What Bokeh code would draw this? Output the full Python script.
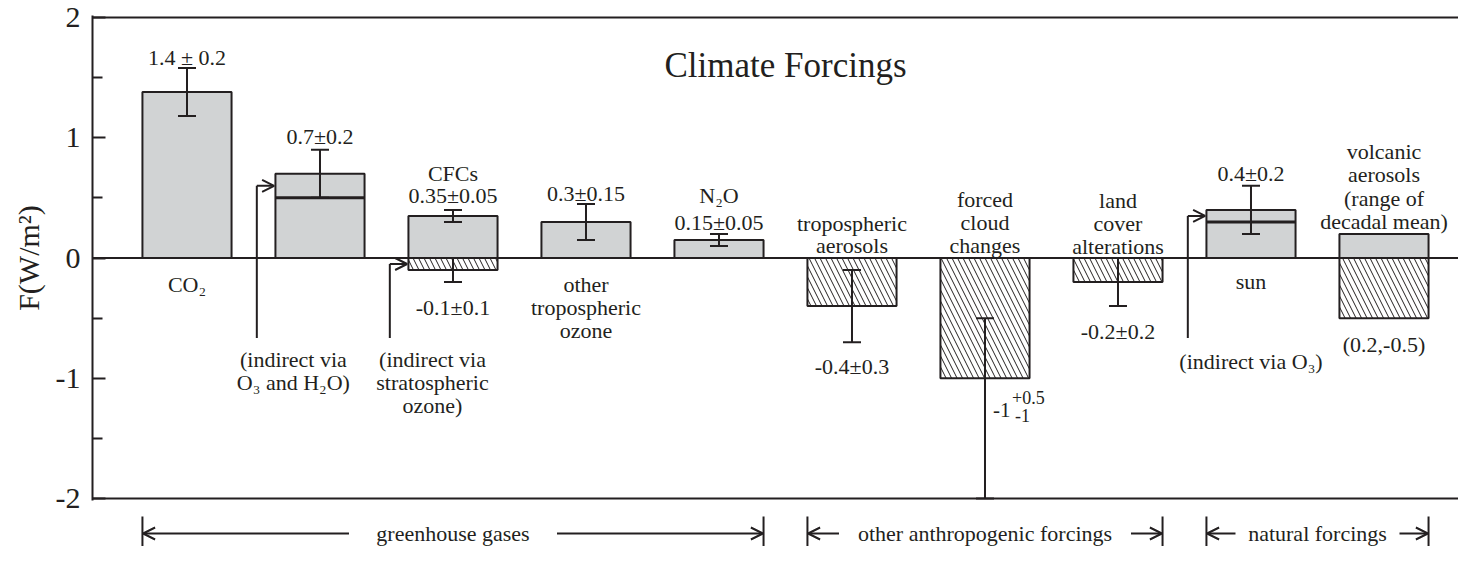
import numpy as np
from bokeh.plotting import figure
from bokeh.models import (Range1d, FixedTicker, Span, Whisker, TeeHead, Arrow,
                          OpenHead, ColumnDataSource)
from bokeh.layouts import column
from bokeh.embed import file_html
from bokeh.resources import INLINE
from bokeh.core.properties import value

# ---------------- data ----------------
categories = ["CO2", "CH4", "CFCs", "other tropospheric ozone", "N2O",
              "tropospheric aerosols", "forced cloud changes",
              "land cover alterations", "sun", "volcanic aerosols"]
positive = [1.38, 0.70, 0.35, 0.30, 0.15, 0.0, 0.0, 0.0, 0.40, 0.20]
negative = [0.0, 0.0, -0.10, 0.0, 0.0, -0.40, -1.00, -0.20, 0.0, -0.50]
inner_level = [None, 0.50, None, None, None, None, None, None, 0.30, None]

err_cat = [0, 1, 2, 2, 3, 4, 5, 6, 7, 8]
err_low = [1.18, 0.50, 0.30, -0.20, 0.15, 0.10, -0.70, -2.00, -0.40, 0.20]
err_high = [1.58, 0.90, 0.40, 0.00, 0.45, 0.20, -0.10, -0.50, 0.00, 0.60]

y_ticks = [-2, -1, 0, 1, 2]
y_minor = [-1.5, -0.5, 0.5, 1.5]
y_tick_labels = ["-2", "-1", "0", "1", "2"]

indirect_cats = [1, 2, 8]      # bars with an "indirect" arrow

groups = ["greenhouse gases", "other anthropogenic forcings", "natural forcings"]
group_first = [0, 5, 8]
group_last = [4, 7, 9]

# text annotations: (x position in category units, y in W/m2, text)
labels = [
    (0, 1.665, "1.4 ± 0.2"),
    (0, -0.218, "CO₂"),
    (1, 1.012, "0.7±0.2"),
    (0.80, -0.846, "(indirect via"),
    (0.80, -1.035, "O₃ and H₂O)"),
    (2, 0.70, "CFCs"),
    (2, 0.517, "0.35±0.05"),
    (2, -0.408, "-0.1±0.1"),
    (1.846, -0.846, "(indirect via"),
    (1.846, -1.035, "stratospheric"),
    (1.846, -1.225, "ozone)"),
    (3, 0.536, "0.3±0.15"),
    (3, -0.224, "other"),
    (3, -0.408, "tropospheric"),
    (3, -0.600, "ozone"),
    (4, 0.523, "N₂O"),
    (4, 0.296, "0.15±0.05"),
    (5, 0.290, "tropospheric"),
    (5, 0.100, "aerosols"),
    (5, -0.900, "-0.4±0.3"),
    (6, 0.487, "forced"),
    (6, 0.296, "cloud"),
    (6, 0.104, "changes"),
    (7, 0.482, "land"),
    (7, 0.290, "cover"),
    (7, 0.099, "alterations"),
    (7, -0.614, "-0.2±0.2"),
    (8, 0.700, "0.4±0.2"),
    (8, -0.197, "sun"),
    (8, -0.860, "(indirect via O₃)"),
    (9, 0.887, "volcanic"),
    (9, 0.696, "aerosols"),
    (9, 0.495, "(range of"),
    (9, 0.304, "decadal mean)"),
    (9, -0.723, "(0.2,-0.5)"),
]

# ---------------- style ----------------
INK = "#231f20"
GRAY = "#d1d3d4"
FONT = value("Liberation Serif")
BAR_W = 0.67
W = 1458

x = np.arange(len(categories))
xr = Range1d(-0.7105, 9.5602)

p = figure(width=W, height=514, x_range=xr, y_range=Range1d(-2.0166, 2.0166),
           output_backend="svg", toolbar_location=None, x_axis_location=None,
           min_border_left=92, min_border_right=0, min_border_top=15,
           min_border_bottom=14, outline_line_color=None)
p.grid.visible = False
p.background_fill_color = "white"

yax = p.yaxis[0]
yax.ticker = FixedTicker(ticks=y_ticks, minor_ticks=y_minor)
yax.major_label_overrides = {t: l for t, l in zip(y_ticks, y_tick_labels)}
yax.axis_label = "F(W/m²)"
yax.axis_label_text_font = "Liberation Serif"
yax.axis_label_text_font_style = "normal"
yax.axis_label_text_font_size = "30px"
yax.axis_label_text_color = INK
yax.axis_label_standoff = 8
yax.major_label_text_font = "Liberation Serif"
yax.major_label_text_font_size = "30px"
yax.major_label_text_color = INK
yax.major_label_standoff = 12
yax.axis_line_color = INK
yax.axis_line_width = 2
yax.major_tick_line_color = INK
yax.major_tick_line_width = 2
yax.major_tick_in = 13
yax.major_tick_out = 0
yax.minor_tick_line_color = INK
yax.minor_tick_line_width = 2
yax.minor_tick_in = 10
yax.minor_tick_out = 0

# frame lines
for loc in (2, -2):
    p.add_layout(Span(location=loc, dimension="width", line_color=INK, line_width=2))

# positive (gray) bars
pos_idx = [i for i, v in enumerate(positive) if v != 0]
p.vbar(x=[x[i] for i in pos_idx], top=[positive[i] for i in pos_idx], bottom=0,
       width=BAR_W, fill_color=GRAY, line_color=INK, line_width=2)

# negative (hatched) bars
neg_idx = [i for i, v in enumerate(negative) if v != 0]
p.vbar(x=[x[i] for i in neg_idx], top=0, bottom=[negative[i] for i in neg_idx],
       width=BAR_W, fill_color="white", line_color=INK, line_width=2,
       hatch_pattern="\\", hatch_color=INK, hatch_weight=1, hatch_scale=11)

# inner (direct part) lines
inn = [i for i, v in enumerate(inner_level) if v is not None]
p.segment(x0=[x[i] - BAR_W / 2 for i in inn], x1=[x[i] + BAR_W / 2 for i in inn],
          y0=[inner_level[i] for i in inn], y1=[inner_level[i] for i in inn],
          line_color=INK, line_width=3)

# zero line over bars
p.add_layout(Span(location=0, dimension="width", line_color=INK, line_width=2))

# error bars
esrc = ColumnDataSource(dict(base=err_cat, lower=err_low, upper=err_high))
p.add_layout(Whisker(source=esrc, base="base", lower="lower", upper="upper",
                     dimension="height", line_color=INK, line_width=2,
                     level="annotation",
                     upper_head=TeeHead(size=18, line_color=INK, line_width=2),
                     lower_head=TeeHead(size=18, line_color=INK, line_width=2)))

# indirect arrows
for i in indirect_cats:
    if inner_level[i] is not None:
        ay = (inner_level[i] + positive[i]) / 2
    else:
        ay = negative[i] / 2
    ax = x[i] - BAR_W / 2 - 0.14
    p.segment(x0=[ax], y0=[-0.665], x1=[ax], y1=[ay], line_color=INK, line_width=2)
    p.add_layout(Arrow(x_start=ax, y_start=ay, x_end=x[i] - BAR_W / 2 - 0.01, y_end=ay,
                       line_color=INK, line_width=2,
                       end=OpenHead(size=12, line_color=INK, line_width=2)))

# labels
p.text(x=[l[0] for l in labels], y=[l[1] for l in labels], text=[l[2] for l in labels],
       text_font=FONT, text_font_size="22px", text_color=INK,
       text_align="center", text_baseline="alphabetic")

# asymmetric error label for cloud changes
p.text(x=[6], y=[-1.265], text=["-1"], x_offset=8, text_font=FONT,
       text_font_size="21px", text_color=INK, text_align="left",
       text_baseline="alphabetic")
p.text(x=[6, 6], y=[-1.157, -1.31], text=["+0.5", "-1"], x_offset=[27, 30],
       text_font=FONT, text_font_size="18px", text_color=INK, text_align="left",
       text_baseline="alphabetic")

# title inside the plot
p.text(x=[(x[0] + x[-1]) / 2], y=[1.60], text=["Climate Forcings"], text_font=FONT,
       text_font_size="35px", text_color=INK, text_align="center",
       text_baseline="alphabetic")

# ---------------- group annotation strip ----------------
SH = 32
p2 = figure(width=W, height=SH, x_range=xr, y_range=Range1d(SH, 0),
            output_backend="svg", toolbar_location=None, x_axis_location=None,
            y_axis_location=None, min_border_left=92, min_border_right=0,
            min_border_top=0, min_border_bottom=0, outline_line_color=None)
p2.grid.visible = False

g_left = [x[f] - BAR_W / 2 for f in group_first]
g_right = [x[l] + BAR_W / 2 for l in group_last]
g_mid = [(a + b) / 2 for a, b in zip(g_left, g_right)]
half_gap_px = [104, 146, 82]
AY = 19

p2.segment(x0=g_left + g_right, x1=g_left + g_right, y0=2, y1=SH,
           line_color=INK, line_width=2)
for a, b, m, hg in zip(g_left, g_right, g_mid, half_gap_px):
    d = hg / 133.0
    p2.add_layout(Arrow(x_start=m - d, y_start=AY, x_end=a + 0.005, y_end=AY,
                        line_color=INK, line_width=2,
                        end=OpenHead(size=12, line_color=INK, line_width=2)))
    p2.add_layout(Arrow(x_start=m + d, y_start=AY, x_end=b - 0.005, y_end=AY,
                        line_color=INK, line_width=2,
                        end=OpenHead(size=12, line_color=INK, line_width=2)))
p2.text(x=g_mid, y=AY, text=groups, text_font=FONT, text_font_size="22px",
        text_color=INK, text_align="center", text_baseline="middle")

layout = column(p, p2, spacing=0)
open("out.html", "w").write(file_html(layout, INLINE))
